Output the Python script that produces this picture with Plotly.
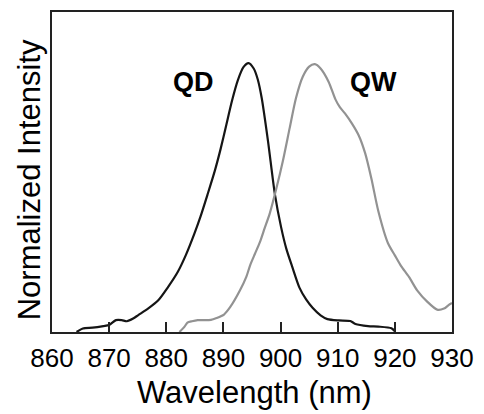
import plotly.graph_objects as go

# Quantum dot (QD) emission spectrum
qd_wavelength = [864.3, 865.4, 867.1, 869.0, 870.0, 871.2, 872.2, 873.1, 874.2, 875.1,
                 876.8, 878.6, 880.3, 882.0, 883.4, 884.9, 886.0, 887.2, 888.5, 889.5,
                 890.5, 891.5, 892.5, 893.5, 894.4, 895.3, 896.0, 896.7, 897.8, 899.0,
                 900.1, 901.0, 902.0, 903.3, 904.5, 905.6, 907.0, 908.2, 910.2, 912.2,
                 913.1, 915.3, 917.1, 919.4, 920.0]
qd_intensity = [0.0, 0.013, 0.016, 0.022, 0.026, 0.044, 0.044, 0.040, 0.050, 0.063,
                0.087, 0.118, 0.167, 0.223, 0.285, 0.365, 0.430, 0.510, 0.600, 0.680,
                0.770, 0.860, 0.935, 0.985, 1.0, 0.980, 0.940, 0.870, 0.710, 0.513,
                0.389, 0.310, 0.245, 0.165, 0.120, 0.090, 0.062, 0.048, 0.043, 0.041,
                0.030, 0.022, 0.020, 0.014, 0.003]

# Quantum well (QW) emission spectrum
qw_wavelength = [882.3, 883.2, 883.7, 884.5, 885.5, 887.8, 888.8, 890.1, 891.2, 892.9,
                 894.0, 894.7, 895.5, 896.4, 897.2, 898.1, 899.3, 900.4, 901.6, 902.7,
                 903.9, 905.0, 906.0, 907.0, 908.4, 909.6, 910.4, 911.3, 912.5, 913.7,
                 914.8, 915.9, 917.1, 918.8, 920.0, 921.1, 922.5, 923.9, 925.7, 927.4,
                 928.6, 929.4, 930.0]
qw_intensity = [0.0, 0.020, 0.035, 0.040, 0.044, 0.045, 0.052, 0.065, 0.093, 0.155,
                0.205, 0.250, 0.290, 0.335, 0.385, 0.440, 0.537, 0.636, 0.759, 0.870,
                0.950, 0.987, 0.996, 0.980, 0.931, 0.865, 0.835, 0.812, 0.775, 0.730,
                0.665, 0.570, 0.450, 0.330, 0.285, 0.245, 0.204, 0.155, 0.112, 0.083,
                0.087, 0.100, 0.108]

x_ticks = [860, 870, 880, 890, 900, 910, 920, 930]
x_tick_labels = ["860", "870", "880", "890", "900", "910", "920", "930"]

FONT = "Arial, Liberation Sans, Helvetica, sans-serif"

fig = go.Figure()
fig.add_trace(go.Scatter(x=qd_wavelength, y=qd_intensity, mode="lines",
                         line=dict(color="#151515", width=2.2, shape="spline", smoothing=0.7),
                         name="QD", showlegend=False, hoverinfo="skip"))
fig.add_trace(go.Scatter(x=qw_wavelength, y=qw_intensity, mode="lines",
                         line=dict(color="#929292", width=2.2, shape="spline", smoothing=0.7),
                         name="QW", showlegend=False, hoverinfo="skip"))

fig.add_annotation(x=884.8, y=0.928, text="<b>QD</b>", showarrow=False,
                   font=dict(family=FONT, size=27, color="#000"))
fig.add_annotation(x=916.2, y=0.928, text="<b>QW</b>", showarrow=False,
                   font=dict(family=FONT, size=27, color="#000"))

# Axis titles
fig.add_annotation(xref="paper", yref="paper", x=0.5074, y=-0.19,
                   text="Wavelength (nm)", showarrow=False,
                   xanchor="center", yanchor="middle",
                   font=dict(family=FONT, size=31, color="#000"))
fig.add_annotation(xref="paper", yref="paper", x=-0.0567, y=0.475,
                   text="Normalized Intensity", showarrow=False, textangle=-90,
                   xanchor="center", yanchor="middle",
                   font=dict(family=FONT, size=31, color="#000"))

fig.update_xaxes(range=[860, 930], tickvals=x_ticks, ticktext=x_tick_labels,
                 ticks="inside", ticklen=10, tickwidth=2, tickcolor="#222",
                 showline=True, linewidth=2, linecolor="#222", mirror=True,
                 showgrid=False, zeroline=False, ticklabelstandoff=2,
                 tickfont=dict(family=FONT, size=26, color="#000"))
fig.update_yaxes(range=[0, 1.19], showticklabels=False, ticks="",
                 showline=True, linewidth=2, linecolor="#222", mirror=True,
                 showgrid=False, zeroline=False)

fig.update_layout(width=484, height=414,
                  margin=dict(l=52, r=26, t=10, b=82),
                  plot_bgcolor="white", paper_bgcolor="white")

fig.write_html("out.html")
